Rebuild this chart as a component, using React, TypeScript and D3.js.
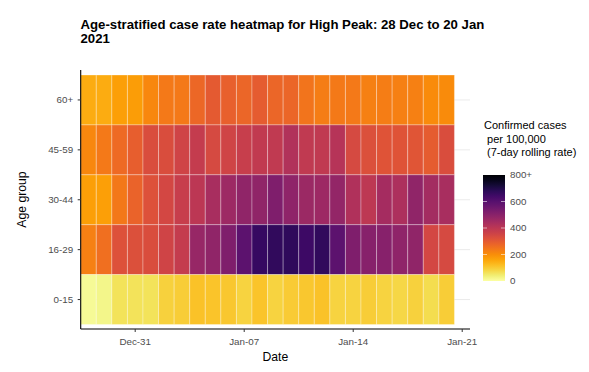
import React from "react";
import * as d3 from "d3";

const ageGroups = ["60+", "45-59", "30-44", "16-29", "0-15"];
const startDate = "2020-12-28";
const nDays = 24;
const rate60plus = [150, 150, 170, 175, 210, 235, 235, 270, 300, 285, 275, 295, 275, 275, 245, 230, 235, 235, 225, 230, 225, 225, 205, 205];
const rate45to59 = [210, 235, 265, 290, 330, 330, 355, 380, 340, 355, 375, 385, 390, 420, 390, 390, 410, 340, 325, 315, 315, 310, 295, 330];
const rate30to44 = [170, 170, 240, 280, 320, 345, 375, 400, 440, 460, 485, 485, 520, 490, 465, 460, 480, 425, 395, 445, 430, 485, 450, 440];
const rate16to29 = [225, 255, 320, 325, 330, 355, 380, 475, 485, 520, 590, 660, 670, 675, 650, 670, 590, 520, 505, 505, 490, 485, 345, 340];
const rate0to15 = [15, 25, 60, 60, 60, 90, 95, 115, 110, 105, 85, 110, 85, 100, 105, 115, 85, 85, 95, 85, 80, 90, 70, 95];
const seriesByGroup = [rate60plus, rate45to59, rate30to44, rate16to29, rate0to15];
const xTickDates = ["2020-12-31", "2021-01-07", "2021-01-14", "2021-01-21"];
const legendTicks = [0, 200, 400, 600, 800];
const legendTitle = ["Confirmed cases", " per 100,000", " (7-day rolling rate)"];
const titleLines = ["Age-stratified case rate heatmap for High Peak: 28 Dec to 20 Jan", "2021"];

const DAY = 24 * 3600 * 1000;

export default function App() {
  const W = 589, H = 372;
  const font = "'Liberation Sans', Arial, sans-serif";
  const start = new Date(startDate + "T00:00:00Z");
  const days = d3.range(nDays).map((i) => new Date(start.getTime() + i * DAY));

  const x = d3.scaleUtc()
    .domain([new Date(start.getTime() - DAY / 2), new Date(start.getTime() + (nDays + 0.5) * DAY)])
    .range([80.7, 470]);
  const y = d3.scaleBand().domain(ageGroups).range([75, 324.5]).padding(0);
  const color = d3.scaleSequential((t: number) => d3.interpolateInferno(1 - t)).domain([0, 800]).clamp(true);

  const cells: { g: string; d: Date; v: number }[] = [];
  ageGroups.forEach((g, gi) => {
    days.forEach((d, di) => cells.push({ g, d, v: seriesByGroup[gi][di] }));
  });

  const fmt = d3.utcFormat("%b-%d");
  const ticks = xTickDates.map((s) => new Date(s + "T00:00:00Z"));

  const legY = d3.scaleLinear().domain([0, 800]).range([281, 175]);
  const legX0 = 483, legW = 22;
  const gradStops = d3.range(0, 1.0001, 0.05);

  const panelTop = 70, panelBottom = 329, panelLeft = 80.7, panelRight = 470;

  return (
    <svg width={W} height={H} style={{ position: "absolute", left: 0, top: 0, background: "#fff" }} fontFamily={font}>
      <defs>
        <linearGradient id="leg" x1="0" y1="1" x2="0" y2="0">
          {gradStops.map((t) => (
            <stop key={t} offset={t} stopColor={color(t * 800)} />
          ))}
        </linearGradient>
      </defs>
      <rect width={W} height={H} fill="#fff" />
      {titleLines.map((l, i) => (
        <text key={i} x={80.5} y={29 + i * 14} fontSize={13.2} fontWeight="bold" fill="#000">{l}</text>
      ))}
      {/* gridlines */}
      {ageGroups.map((g) => (
        <line key={g} x1={panelLeft} x2={panelRight} y1={y(g)! + y.bandwidth() / 2} y2={y(g)! + y.bandwidth() / 2} stroke="#ebebeb" strokeWidth={1} />
      ))}
      {/* tiles */}
      {cells.map((c, i) => {
        const x0 = x(new Date(c.d.getTime() - DAY / 2));
        const x1 = x(new Date(c.d.getTime() + DAY / 2));
        return (
          <rect key={i} x={x0} y={y(c.g)!} width={x1 - x0} height={y.bandwidth()} fill={color(c.v)} stroke="rgba(255,255,255,0.3)" strokeWidth={1} />
        );
      })}
      {/* axes */}
      <line x1={panelLeft} x2={panelLeft} y1={panelTop} y2={panelBottom} stroke="#000" strokeWidth={1.1} />
      <line x1={panelLeft} x2={panelRight} y1={panelBottom} y2={panelBottom} stroke="#000" strokeWidth={1.1} />
      {ageGroups.map((g) => {
        const cy = y(g)! + y.bandwidth() / 2;
        return (
          <g key={g}>
            <line x1={panelLeft - 3} x2={panelLeft} y1={cy} y2={cy} stroke="#333" strokeWidth={1} />
            <text x={panelLeft - 7.5} y={cy} dy="0.35em" textAnchor="end" fontSize={9.8} fill="#4d4d4d">{g}</text>
          </g>
        );
      })}
      {ticks.map((t, i) => {
        const tx = x(t);
        return (
          <g key={i}>
            <line x1={tx} x2={tx} y1={panelBottom} y2={panelBottom + 3} stroke="#333" strokeWidth={1} />
            <text x={tx} y={panelBottom + 13} dy="0.35em" textAnchor="middle" fontSize={9.8} fill="#4d4d4d">{fmt(t)}</text>
          </g>
        );
      })}
      <text x={(panelLeft + panelRight) / 2} y={361} textAnchor="middle" fontSize={12.2} fill="#000">Date</text>
      <text transform={`translate(26,${(panelTop + panelBottom) / 2}) rotate(-90)`} textAnchor="middle" fontSize={12.2} fill="#000">Age group</text>
      {/* legend */}
      {legendTitle.map((l, i) => (
        <text key={i} x={484} y={129 + i * 13.5} fontSize={11} fill="#000" style={{ whiteSpace: "pre" }}>{l}</text>
      ))}
      <rect x={legX0} y={legY(800)} width={legW} height={legY(0) - legY(800)} fill="url(#leg)" />
      {legendTicks.map((v) => (
        <g key={v}>
          {v > 0 && v < 800 && (
            <>
              <line x1={legX0} x2={legX0 + 4} y1={legY(v)} y2={legY(v)} stroke="#fff" strokeWidth={0.8} opacity={0.7} />
              <line x1={legX0 + legW - 4} x2={legX0 + legW} y1={legY(v)} y2={legY(v)} stroke="#fff" strokeWidth={0.8} opacity={0.7} />
            </>
          )}
          <text x={510} y={legY(v)} dy="0.35em" fontSize={9.8} fill="#4d4d4d">{v === 800 ? "800+" : String(v)}</text>
        </g>
      ))}
    </svg>
  );
}
